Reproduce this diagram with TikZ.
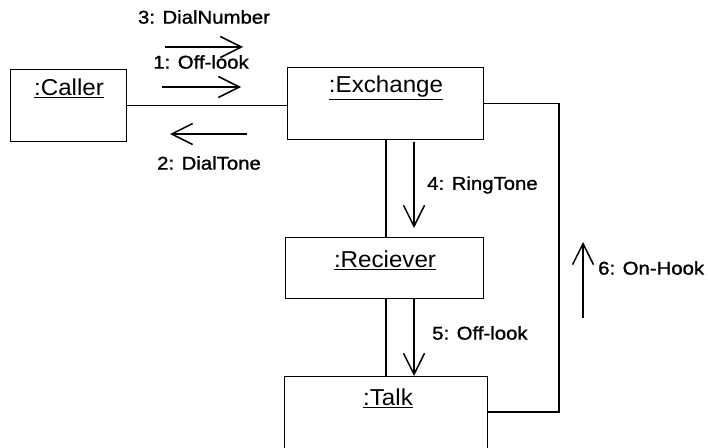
\documentclass[tikz,border=0pt]{standalone}
\usepackage{fontspec}
\setmainfont{Liberation Sans}
\newfontfamily\lblfont[FakeStretch=1.1,FakeBold=1.2]{Liberation Sans}
\newfontfamily\namefont[FakeStretch=1.05]{Liberation Sans}
\usetikzlibrary{arrows.meta,calc}
\begin{document}
\begin{tikzpicture}[x=1pt,y=-1pt,
  objbox/.style={draw,line width=1.2pt,rectangle,anchor=north west,inner sep=0pt},
  objname/.style={font=\namefont\fontsize{23}{27}\selectfont,inner sep=0pt},
  msg/.style={font=\lblfont\fontsize{18.5}{22}\selectfont,inner sep=0pt},
  link/.style={line width=1.1pt},
  msgarrow/.style={line width=1.2pt,-{Straight Barb[length=21pt,width=21pt,line width=1.5pt]}}]
\useasboundingbox (0,0) rectangle (708,447);
% objects
\node[objbox,minimum width=116pt,minimum height=72pt] (caller) at (10,69) {};
\node[objbox,minimum width=196pt,minimum height=72pt] (exchange) at (287,67) {};
\node[objbox,minimum width=198pt,minimum height=61pt] (reciever) at (285,237) {};
\node[objbox,minimum width=203pt,minimum height=100pt] (talk) at (284,376) {};
\node[objname] (callerT) at (69,88) {\underline{:Caller}};
\node[objname] (exchangeT) at (386,88) {\underline{:Exchange}};
\node[objname] (recieverT) at (385,260) {\underline{:Reciever}};
\node[objname] (talkT) at (388,398) {\underline{:Talk}};
% links
\coordinate (lx) at (386,0);
\coordinate (rc) at (559,0);
\coordinate (tk) at ($(talk.north east)+(0,36)$);
\draw[link] (caller.east) -- (caller.east -| exchange.west);
\draw[link] (exchange.south -| lx) -- (reciever.north -| lx);
\draw[link] (reciever.south -| lx) -- (talk.north -| lx);
\draw[link] (exchange.east) -- (exchange.east -| rc) -- (rc |- tk) -- (tk);
% messages
\coordinate (m3a) at (165,47); \coordinate (m3b) at (243,47);
\coordinate (m1a) at (162,87); \coordinate (m1b) at (241,87);
\coordinate (m2a) at (247,134); \coordinate (m2b) at (170,134);
\coordinate (m4a) at (414,142); \coordinate (m4b) at (414,228);
\coordinate (m5a) at (414,299); \coordinate (m5b) at (414,376);
\coordinate (m6a) at (583,318); \coordinate (m6b) at (583,242);
\draw[msgarrow] (m3a) -- (m3b);
\draw[msgarrow] (m1a) -- (m1b);
\draw[msgarrow] (m2a) -- (m2b);
\draw[msgarrow] (m4a) -- (m4b);
\draw[msgarrow] (m5a) -- (m5b);
\draw[msgarrow] (m6a) -- (m6b);
\node[msg] (l3) at (204,17) {3: DialNumber};
\node[msg] (l1) at (201,62) {1: Off-look};
\node[msg] (l2) at (209,163) {2: DialTone};
\node[msg,anchor=west] (l4) at (427,185) {4: RingTone};
\node[msg,anchor=west] (l5) at (432,333) {5: Off-look};
\node[msg,anchor=west] (l6) at (598,268) {6: On-Hook};
\end{tikzpicture}
\end{document}
